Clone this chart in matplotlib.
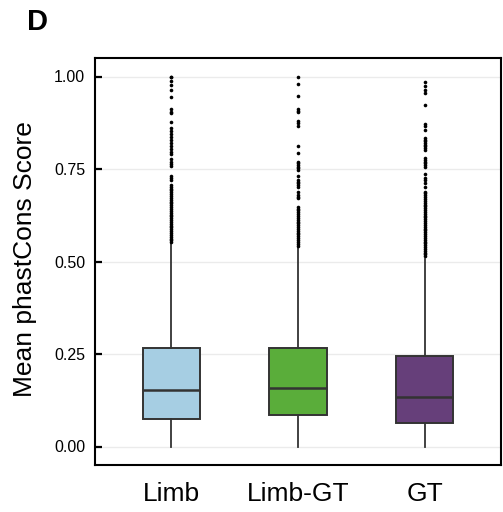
import matplotlib
matplotlib.use('Agg')
import matplotlib.pyplot as plt

# Data
groups = ['Limb', 'Limb-GT', 'GT']
colors = ['#a6cee3', '#5aad3a', '#663f7a']

q1 = [0.075, 0.084, 0.064]
medians = [0.152, 0.159, 0.135]
q3 = [0.265, 0.266, 0.244]
whisker_low = [0.0, 0.0, 0.0]
whisker_high = [0.549, 0.537, 0.508]

limb_outliers = [1.0, 0.998, 0.989, 0.978, 0.964, 0.944, 0.912, 0.905, 0.901, 0.878,
                 0.862, 0.853, 0.845, 0.836, 0.829, 0.820, 0.812, 0.803, 0.797, 0.790,
                 0.776, 0.770, 0.764, 0.757, 0.730, 0.725, 0.721,
                 0.707, 0.702, 0.697, 0.692, 0.687, 0.682, 0.677, 0.672, 0.667, 0.662,
                 0.657, 0.652, 0.647, 0.642, 0.637, 0.632, 0.627, 0.622, 0.617, 0.612,
                 0.607, 0.602, 0.597, 0.592, 0.587, 0.582, 0.577, 0.572, 0.567, 0.562,
                 0.557, 0.552]
limbgt_outliers = [1.0, 0.979, 0.948, 0.912, 0.908, 0.904, 0.880, 0.874, 0.867, 0.811,
                   0.794, 0.770, 0.765, 0.761, 0.756, 0.752, 0.747, 0.731, 0.720, 0.716,
                   0.711, 0.707, 0.702, 0.689, 0.680, 0.675, 0.671,
                   0.648, 0.643, 0.638, 0.633, 0.628, 0.623, 0.618, 0.613, 0.608, 0.603,
                   0.598, 0.593, 0.588, 0.583, 0.578, 0.573, 0.568, 0.563, 0.558, 0.553,
                   0.548, 0.543]
gt_outliers = [0.984, 0.973, 0.964, 0.955, 0.923, 0.872, 0.867, 0.856, 0.833, 0.829,
               0.825, 0.820, 0.816, 0.811, 0.807, 0.802, 0.779, 0.774, 0.770, 0.765,
               0.761, 0.756, 0.737, 0.727, 0.720, 0.713, 0.702,
               0.689, 0.684, 0.679, 0.674, 0.669, 0.664, 0.659, 0.654, 0.649, 0.644,
               0.639, 0.634, 0.629, 0.624, 0.619, 0.614, 0.609, 0.604, 0.599, 0.594,
               0.589, 0.584, 0.579, 0.574, 0.569, 0.564, 0.559, 0.554, 0.549, 0.544,
               0.539, 0.534, 0.529, 0.524, 0.519, 0.514]
outliers = [limb_outliers, limbgt_outliers, gt_outliers]

yticks = [0.0, 0.25, 0.5, 0.75, 1.0]
ytick_labels = ['0.00', '0.25', '0.50', '0.75', '1.00']

plt.rcParams['font.family'] = ['Liberation Sans', 'DejaVu Sans']

fig = plt.figure(figsize=(5.03, 5.12), dpi=100)
ax = fig.add_axes([95 / 503, 47 / 512, 406 / 503, 407 / 512])

# Build box stats so the boxes match the figure exactly
stats = []
for i in range(len(groups)):
    stats.append({'label': groups[i], 'q1': q1[i], 'med': medians[i], 'q3': q3[i],
                  'whislo': whisker_low[i], 'whishi': whisker_high[i],
                  'fliers': outliers[i]})

edge = '#333333'
bp = ax.bxp(stats, positions=[1, 2, 3], widths=0.45, patch_artist=True,
            showcaps=False, zorder=3,
            boxprops=dict(edgecolor=edge, linewidth=1.4),
            medianprops=dict(color=edge, linewidth=1.8),
            whiskerprops=dict(color=edge, linewidth=1.3),
            flierprops=dict(marker='o', markersize=2.6, markerfacecolor='black',
                            markeredgewidth=0, linestyle='none'))
for patch, c in zip(bp['boxes'], colors):
    patch.set_facecolor(c)

# Axes styling
ax.set_xlim(0.4, 3.6)
ax.set_ylim(-0.05, 1.05)
ax.set_yticks(yticks)
ax.set_yticklabels(ytick_labels, fontsize=11.5)
ax.set_xticks([1, 2, 3])
ax.set_xticklabels(groups, fontsize=19)
ax.tick_params(axis='y', direction='in', length=5, width=1.6, pad=7, color='black')
ax.tick_params(axis='x', length=0, pad=12)
ax.yaxis.grid(True, color='#ebebeb', linewidth=1.0, zorder=0)
ax.set_axisbelow(True)
for s in ax.spines.values():
    s.set_linewidth(1.5)
    s.set_color('black')

ax.set_ylabel('Mean phastCons Score', fontsize=19)
ax.yaxis.set_label_coords(-0.143, 0.507)

# Panel label
fig.text(27 / 503, 1 - 22 / 512, 'D', fontsize=21, fontweight='bold', ha='left', va='center')

plt.savefig('out.png', dpi=100)
